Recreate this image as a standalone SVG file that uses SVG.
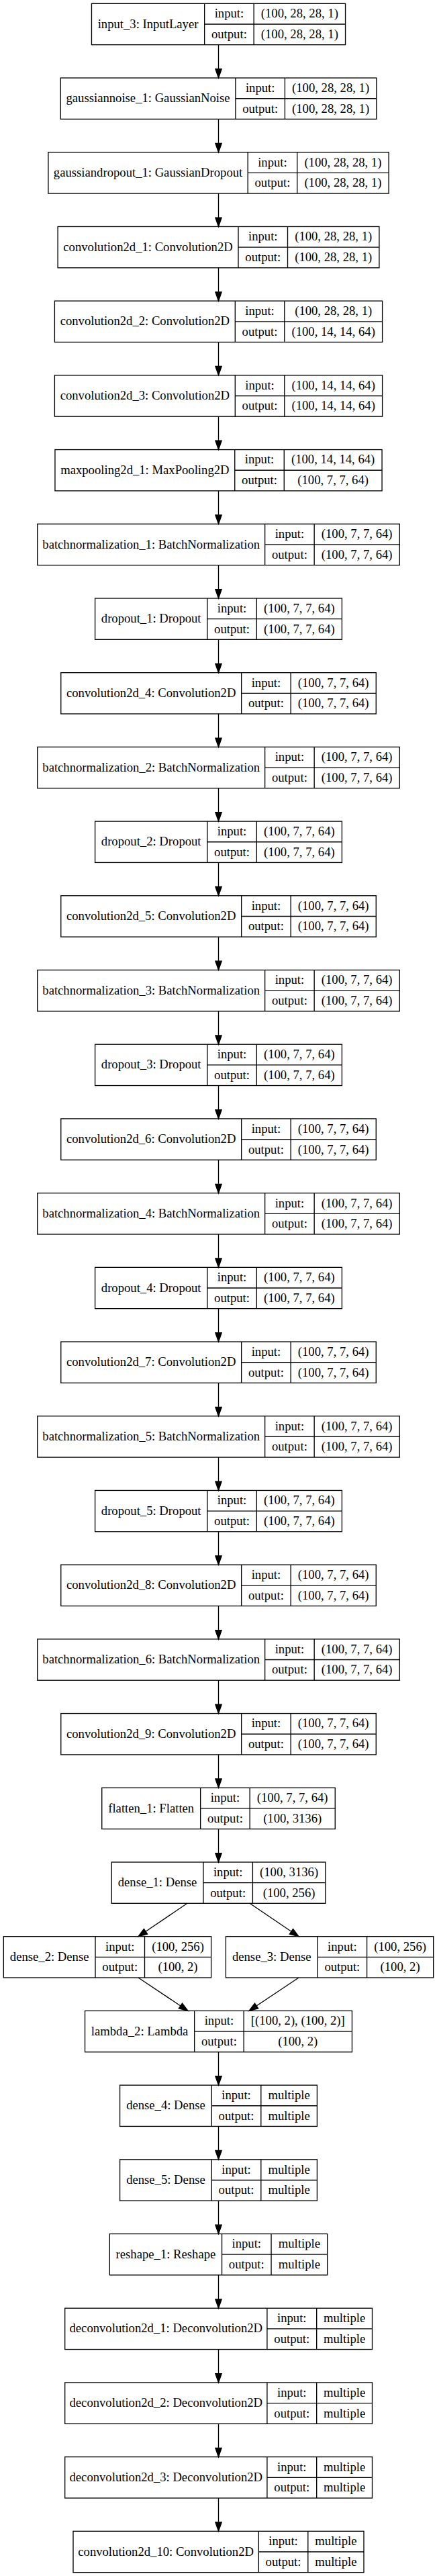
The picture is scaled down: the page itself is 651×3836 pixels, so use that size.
<svg xmlns="http://www.w3.org/2000/svg" width="651" height="3836" viewBox="0 0 651 3836">
<style>
.b{fill:#fff;stroke:#000;stroke-width:1.33}
.d{stroke:#000;stroke-width:1.33;fill:none}
.e{stroke:#000;stroke-width:1.33;fill:none;marker-end:url(#arr)}
text{font-family:'Liberation Serif','Times New Roman',serif;font-size:18.67px;text-anchor:middle;fill:#000}
</style>
<defs>
<marker id="arr" markerUnits="userSpaceOnUse" markerWidth="15" markerHeight="11" refX="0" refY="5" orient="auto" overflow="visible">
<path d="M0,0.33 L13.33,5 L0,9.67 Z" fill="#000" stroke="#000" stroke-width="1.33"/>
</marker>
</defs>
<rect x="0" y="0" width="651" height="3836" fill="#fff"/>

<g id="input_3" transform="translate(0,5.33)">
<rect class="b" x="136.45" y="0" width="378.1" height="61.33"/>
<path class="d" d="M304.65,0V61.33M378.15,0V61.33M304.65,30.67H514.55"/>
<text x="220.55" y="36.27">input_3: InputLayer</text>
<text x="341.4" y="20.93">input:</text><text x="341.4" y="51.6">output:</text>
<text x="446.35" y="20.93">(100, 28, 28, 1)</text><text x="446.35" y="51.6">(100, 28, 28, 1)</text>
</g>

<g id="gaussiannoise_1" transform="translate(0,116.04)">
<rect class="b" x="90.2" y="0" width="470.6" height="61.33"/>
<path class="d" d="M350.9,0V61.33M424.4,0V61.33M350.9,30.67H560.8"/>
<text x="220.55" y="36.27">gaussiannoise_1: GaussianNoise</text>
<text x="387.65" y="20.93">input:</text><text x="387.65" y="51.6">output:</text>
<text x="492.6" y="20.93">(100, 28, 28, 1)</text><text x="492.6" y="51.6">(100, 28, 28, 1)</text>
</g>

<g id="gaussiandropout_1" transform="translate(0,226.74)">
<rect class="b" x="71.9" y="0" width="507.2" height="61.33"/>
<path class="d" d="M369.2,0V61.33M442.7,0V61.33M369.2,30.67H579.1"/>
<text x="220.55" y="36.27">gaussiandropout_1: GaussianDropout</text>
<text x="405.95" y="20.93">input:</text><text x="405.95" y="51.6">output:</text>
<text x="510.9" y="20.93">(100, 28, 28, 1)</text><text x="510.9" y="51.6">(100, 28, 28, 1)</text>
</g>

<g id="convolution2d_1" transform="translate(0,337.45)">
<rect class="b" x="86.1" y="0" width="478.8" height="61.33"/>
<path class="d" d="M355,0V61.33M428.5,0V61.33M355,30.67H564.9"/>
<text x="220.55" y="36.27">convolution2d_1: Convolution2D</text>
<text x="391.75" y="20.93">input:</text><text x="391.75" y="51.6">output:</text>
<text x="496.7" y="20.93">(100, 28, 28, 1)</text><text x="496.7" y="51.6">(100, 28, 28, 1)</text>
</g>

<g id="convolution2d_2" transform="translate(0,448.15)">
<rect class="b" x="81.4" y="0" width="488.2" height="61.33"/>
<path class="d" d="M350.3,0V61.33M423.8,0V61.33M350.3,30.67H569.6"/>
<text x="215.85" y="36.27">convolution2d_2: Convolution2D</text>
<text x="387.05" y="20.93">input:</text><text x="387.05" y="51.6">output:</text>
<text x="496.7" y="20.93">(100, 28, 28, 1)</text><text x="496.7" y="51.6">(100, 14, 14, 64)</text>
</g>

<g id="convolution2d_3" transform="translate(0,558.86)">
<rect class="b" x="81.4" y="0" width="488.2" height="61.33"/>
<path class="d" d="M350.3,0V61.33M423.8,0V61.33M350.3,30.67H569.6"/>
<text x="215.85" y="36.27">convolution2d_3: Convolution2D</text>
<text x="387.05" y="20.93">input:</text><text x="387.05" y="51.6">output:</text>
<text x="496.7" y="20.93">(100, 14, 14, 64)</text><text x="496.7" y="51.6">(100, 14, 14, 64)</text>
</g>

<g id="maxpooling2d_1" transform="translate(0,669.57)">
<rect class="b" x="81.95" y="0" width="487.1" height="61.33"/>
<path class="d" d="M349.75,0V61.33M423.25,0V61.33M349.75,30.67H569.05"/>
<text x="215.85" y="36.27">maxpooling2d_1: MaxPooling2D</text>
<text x="386.5" y="20.93">input:</text><text x="386.5" y="51.6">output:</text>
<text x="496.15" y="20.93">(100, 14, 14, 64)</text><text x="496.15" y="51.6">(100, 7, 7, 64)</text>
</g>

<g id="batchnormalization_1" transform="translate(0,780.27)">
<rect class="b" x="55.75" y="0" width="539.5" height="61.33"/>
<path class="d" d="M394.65,0V61.33M468.15,0V61.33M394.65,30.67H595.25"/>
<text x="225.2" y="36.27">batchnormalization_1: BatchNormalization</text>
<text x="431.4" y="20.93">input:</text><text x="431.4" y="51.6">output:</text>
<text x="531.7" y="20.93">(100, 7, 7, 64)</text><text x="531.7" y="51.6">(100, 7, 7, 64)</text>
</g>

<g id="dropout_1" transform="translate(0,890.98)">
<rect class="b" x="141.6" y="0" width="367.8" height="61.33"/>
<path class="d" d="M308.8,0V61.33M382.3,0V61.33M308.8,30.67H509.4"/>
<text x="225.2" y="36.27">dropout_1: Dropout</text>
<text x="345.55" y="20.93">input:</text><text x="345.55" y="51.6">output:</text>
<text x="445.85" y="20.93">(100, 7, 7, 64)</text><text x="445.85" y="51.6">(100, 7, 7, 64)</text>
</g>

<g id="convolution2d_4" transform="translate(0,1001.68)">
<rect class="b" x="90.75" y="0" width="469.5" height="61.33"/>
<path class="d" d="M359.65,0V61.33M433.15,0V61.33M359.65,30.67H560.25"/>
<text x="225.2" y="36.27">convolution2d_4: Convolution2D</text>
<text x="396.4" y="20.93">input:</text><text x="396.4" y="51.6">output:</text>
<text x="496.7" y="20.93">(100, 7, 7, 64)</text><text x="496.7" y="51.6">(100, 7, 7, 64)</text>
</g>

<g id="batchnormalization_2" transform="translate(0,1112.39)">
<rect class="b" x="55.75" y="0" width="539.5" height="61.33"/>
<path class="d" d="M394.65,0V61.33M468.15,0V61.33M394.65,30.67H595.25"/>
<text x="225.2" y="36.27">batchnormalization_2: BatchNormalization</text>
<text x="431.4" y="20.93">input:</text><text x="431.4" y="51.6">output:</text>
<text x="531.7" y="20.93">(100, 7, 7, 64)</text><text x="531.7" y="51.6">(100, 7, 7, 64)</text>
</g>

<g id="dropout_2" transform="translate(0,1223.10)">
<rect class="b" x="141.6" y="0" width="367.8" height="61.33"/>
<path class="d" d="M308.8,0V61.33M382.3,0V61.33M308.8,30.67H509.4"/>
<text x="225.2" y="36.27">dropout_2: Dropout</text>
<text x="345.55" y="20.93">input:</text><text x="345.55" y="51.6">output:</text>
<text x="445.85" y="20.93">(100, 7, 7, 64)</text><text x="445.85" y="51.6">(100, 7, 7, 64)</text>
</g>

<g id="convolution2d_5" transform="translate(0,1333.80)">
<rect class="b" x="90.75" y="0" width="469.5" height="61.33"/>
<path class="d" d="M359.65,0V61.33M433.15,0V61.33M359.65,30.67H560.25"/>
<text x="225.2" y="36.27">convolution2d_5: Convolution2D</text>
<text x="396.4" y="20.93">input:</text><text x="396.4" y="51.6">output:</text>
<text x="496.7" y="20.93">(100, 7, 7, 64)</text><text x="496.7" y="51.6">(100, 7, 7, 64)</text>
</g>

<g id="batchnormalization_3" transform="translate(0,1444.51)">
<rect class="b" x="55.75" y="0" width="539.5" height="61.33"/>
<path class="d" d="M394.65,0V61.33M468.15,0V61.33M394.65,30.67H595.25"/>
<text x="225.2" y="36.27">batchnormalization_3: BatchNormalization</text>
<text x="431.4" y="20.93">input:</text><text x="431.4" y="51.6">output:</text>
<text x="531.7" y="20.93">(100, 7, 7, 64)</text><text x="531.7" y="51.6">(100, 7, 7, 64)</text>
</g>

<g id="dropout_3" transform="translate(0,1555.21)">
<rect class="b" x="141.6" y="0" width="367.8" height="61.33"/>
<path class="d" d="M308.8,0V61.33M382.3,0V61.33M308.8,30.67H509.4"/>
<text x="225.2" y="36.27">dropout_3: Dropout</text>
<text x="345.55" y="20.93">input:</text><text x="345.55" y="51.6">output:</text>
<text x="445.85" y="20.93">(100, 7, 7, 64)</text><text x="445.85" y="51.6">(100, 7, 7, 64)</text>
</g>

<g id="convolution2d_6" transform="translate(0,1665.92)">
<rect class="b" x="90.75" y="0" width="469.5" height="61.33"/>
<path class="d" d="M359.65,0V61.33M433.15,0V61.33M359.65,30.67H560.25"/>
<text x="225.2" y="36.27">convolution2d_6: Convolution2D</text>
<text x="396.4" y="20.93">input:</text><text x="396.4" y="51.6">output:</text>
<text x="496.7" y="20.93">(100, 7, 7, 64)</text><text x="496.7" y="51.6">(100, 7, 7, 64)</text>
</g>

<g id="batchnormalization_4" transform="translate(0,1776.63)">
<rect class="b" x="55.75" y="0" width="539.5" height="61.33"/>
<path class="d" d="M394.65,0V61.33M468.15,0V61.33M394.65,30.67H595.25"/>
<text x="225.2" y="36.27">batchnormalization_4: BatchNormalization</text>
<text x="431.4" y="20.93">input:</text><text x="431.4" y="51.6">output:</text>
<text x="531.7" y="20.93">(100, 7, 7, 64)</text><text x="531.7" y="51.6">(100, 7, 7, 64)</text>
</g>

<g id="dropout_4" transform="translate(0,1887.33)">
<rect class="b" x="141.6" y="0" width="367.8" height="61.33"/>
<path class="d" d="M308.8,0V61.33M382.3,0V61.33M308.8,30.67H509.4"/>
<text x="225.2" y="36.27">dropout_4: Dropout</text>
<text x="345.55" y="20.93">input:</text><text x="345.55" y="51.6">output:</text>
<text x="445.85" y="20.93">(100, 7, 7, 64)</text><text x="445.85" y="51.6">(100, 7, 7, 64)</text>
</g>

<g id="convolution2d_7" transform="translate(0,1998.04)">
<rect class="b" x="90.75" y="0" width="469.5" height="61.33"/>
<path class="d" d="M359.65,0V61.33M433.15,0V61.33M359.65,30.67H560.25"/>
<text x="225.2" y="36.27">convolution2d_7: Convolution2D</text>
<text x="396.4" y="20.93">input:</text><text x="396.4" y="51.6">output:</text>
<text x="496.7" y="20.93">(100, 7, 7, 64)</text><text x="496.7" y="51.6">(100, 7, 7, 64)</text>
</g>

<g id="batchnormalization_5" transform="translate(0,2108.74)">
<rect class="b" x="55.75" y="0" width="539.5" height="61.33"/>
<path class="d" d="M394.65,0V61.33M468.15,0V61.33M394.65,30.67H595.25"/>
<text x="225.2" y="36.27">batchnormalization_5: BatchNormalization</text>
<text x="431.4" y="20.93">input:</text><text x="431.4" y="51.6">output:</text>
<text x="531.7" y="20.93">(100, 7, 7, 64)</text><text x="531.7" y="51.6">(100, 7, 7, 64)</text>
</g>

<g id="dropout_5" transform="translate(0,2219.45)">
<rect class="b" x="141.6" y="0" width="367.8" height="61.33"/>
<path class="d" d="M308.8,0V61.33M382.3,0V61.33M308.8,30.67H509.4"/>
<text x="225.2" y="36.27">dropout_5: Dropout</text>
<text x="345.55" y="20.93">input:</text><text x="345.55" y="51.6">output:</text>
<text x="445.85" y="20.93">(100, 7, 7, 64)</text><text x="445.85" y="51.6">(100, 7, 7, 64)</text>
</g>

<g id="convolution2d_8" transform="translate(0,2330.16)">
<rect class="b" x="90.75" y="0" width="469.5" height="61.33"/>
<path class="d" d="M359.65,0V61.33M433.15,0V61.33M359.65,30.67H560.25"/>
<text x="225.2" y="36.27">convolution2d_8: Convolution2D</text>
<text x="396.4" y="20.93">input:</text><text x="396.4" y="51.6">output:</text>
<text x="496.7" y="20.93">(100, 7, 7, 64)</text><text x="496.7" y="51.6">(100, 7, 7, 64)</text>
</g>

<g id="batchnormalization_6" transform="translate(0,2440.86)">
<rect class="b" x="55.75" y="0" width="539.5" height="61.33"/>
<path class="d" d="M394.65,0V61.33M468.15,0V61.33M394.65,30.67H595.25"/>
<text x="225.2" y="36.27">batchnormalization_6: BatchNormalization</text>
<text x="431.4" y="20.93">input:</text><text x="431.4" y="51.6">output:</text>
<text x="531.7" y="20.93">(100, 7, 7, 64)</text><text x="531.7" y="51.6">(100, 7, 7, 64)</text>
</g>

<g id="convolution2d_9" transform="translate(0,2551.57)">
<rect class="b" x="90.75" y="0" width="469.5" height="61.33"/>
<path class="d" d="M359.65,0V61.33M433.15,0V61.33M359.65,30.67H560.25"/>
<text x="225.2" y="36.27">convolution2d_9: Convolution2D</text>
<text x="396.4" y="20.93">input:</text><text x="396.4" y="51.6">output:</text>
<text x="496.7" y="20.93">(100, 7, 7, 64)</text><text x="496.7" y="51.6">(100, 7, 7, 64)</text>
</g>

<g id="flatten_1" transform="translate(0,2662.27)">
<rect class="b" x="151.75" y="0" width="347.5" height="61.33"/>
<path class="d" d="M298.65,0V61.33M372.15,0V61.33M298.65,30.67H499.25"/>
<text x="225.2" y="36.27">flatten_1: Flatten</text>
<text x="335.4" y="20.93">input:</text><text x="335.4" y="51.6">output:</text>
<text x="435.7" y="20.93">(100, 7, 7, 64)</text><text x="435.7" y="51.6">(100, 3136)</text>
</g>

<g id="dense_1" transform="translate(0,2772.98)">
<rect class="b" x="166.2" y="0" width="318.6" height="61.33"/>
<path class="d" d="M302.9,0V61.33M376.4,0V61.33M302.9,30.67H484.8"/>
<text x="234.55" y="36.27">dense_1: Dense</text>
<text x="339.65" y="20.93">input:</text><text x="339.65" y="51.6">output:</text>
<text x="430.6" y="20.93">(100, 3136)</text><text x="430.6" y="51.6">(100, 256)</text>
</g>

<g id="dense_2" transform="translate(0,2883.69)">
<rect class="b" x="5.33" y="0" width="309.27" height="61.33"/>
<path class="d" d="M142,0V61.33M215.5,0V61.33M142,30.67H314.6"/>
<text x="73.67" y="36.27">dense_2: Dense</text>
<text x="178.75" y="20.93">input:</text><text x="178.75" y="51.6">output:</text>
<text x="265.05" y="20.93">(100, 256)</text><text x="265.05" y="51.6">(100, 2)</text>
</g>

<g id="dense_3" transform="translate(0,2883.69)">
<rect class="b" x="336.4" y="0" width="309.27" height="61.33"/>
<path class="d" d="M473.1,0V61.33M546.6,0V61.33M473.1,30.67H645.67"/>
<text x="404.75" y="36.27">dense_3: Dense</text>
<text x="509.85" y="20.93">input:</text><text x="509.85" y="51.6">output:</text>
<text x="596.13" y="20.93">(100, 256)</text><text x="596.13" y="51.6">(100, 2)</text>
</g>

<g id="lambda_2" transform="translate(0,2994.39)">
<rect class="b" x="126.55" y="0" width="397.9" height="61.33"/>
<path class="d" d="M289.65,0V61.33M363.15,0V61.33M289.65,30.67H524.45"/>
<text x="208.1" y="36.27">lambda_2: Lambda</text>
<text x="326.4" y="20.93">input:</text><text x="326.4" y="51.6">output:</text>
<text x="443.8" y="20.93">[(100, 2), (100, 2)]</text><text x="443.8" y="51.6">(100, 2)</text>
</g>

<g id="dense_4" transform="translate(0,3105.10)">
<rect class="b" x="178.6" y="0" width="293.8" height="61.33"/>
<path class="d" d="M315.3,0V61.33M388.8,0V61.33M315.3,30.67H472.4"/>
<text x="246.95" y="36.27">dense_4: Dense</text>
<text x="352.05" y="20.93">input:</text><text x="352.05" y="51.6">output:</text>
<text x="430.6" y="20.93">multiple</text><text x="430.6" y="51.6">multiple</text>
</g>

<g id="dense_5" transform="translate(0,3215.80)">
<rect class="b" x="178.6" y="0" width="293.8" height="61.33"/>
<path class="d" d="M315.3,0V61.33M388.8,0V61.33M315.3,30.67H472.4"/>
<text x="246.95" y="36.27">dense_5: Dense</text>
<text x="352.05" y="20.93">input:</text><text x="352.05" y="51.6">output:</text>
<text x="430.6" y="20.93">multiple</text><text x="430.6" y="51.6">multiple</text>
</g>

<g id="reshape_1" transform="translate(0,3326.51)">
<rect class="b" x="163.35" y="0" width="324.3" height="61.33"/>
<path class="d" d="M330.55,0V61.33M404.05,0V61.33M330.55,30.67H487.65"/>
<text x="246.95" y="36.27">reshape_1: Reshape</text>
<text x="367.3" y="20.93">input:</text><text x="367.3" y="51.6">output:</text>
<text x="445.85" y="20.93">multiple</text><text x="445.85" y="51.6">multiple</text>
</g>

<g id="deconvolution2d_1" transform="translate(0,3437.22)">
<rect class="b" x="96.7" y="0" width="457.8" height="61.33"/>
<path class="d" d="M397.9,0V61.33M471.7,0V61.33M397.9,30.67H554.5"/>
<text x="247.3" y="36.27">deconvolution2d_1: Deconvolution2D</text>
<text x="434.8" y="20.93">input:</text><text x="434.8" y="51.6">output:</text>
<text x="513.1" y="20.93">multiple</text><text x="513.1" y="51.6">multiple</text>
</g>

<g id="deconvolution2d_2" transform="translate(0,3547.92)">
<rect class="b" x="96.7" y="0" width="457.8" height="61.33"/>
<path class="d" d="M397.9,0V61.33M471.7,0V61.33M397.9,30.67H554.5"/>
<text x="247.3" y="36.27">deconvolution2d_2: Deconvolution2D</text>
<text x="434.8" y="20.93">input:</text><text x="434.8" y="51.6">output:</text>
<text x="513.1" y="20.93">multiple</text><text x="513.1" y="51.6">multiple</text>
</g>

<g id="deconvolution2d_3" transform="translate(0,3658.63)">
<rect class="b" x="96.7" y="0" width="457.8" height="61.33"/>
<path class="d" d="M397.9,0V61.33M471.7,0V61.33M397.9,30.67H554.5"/>
<text x="247.3" y="36.27">deconvolution2d_3: Deconvolution2D</text>
<text x="434.8" y="20.93">input:</text><text x="434.8" y="51.6">output:</text>
<text x="513.1" y="20.93">multiple</text><text x="513.1" y="51.6">multiple</text>
</g>

<g id="convolution2d_10" transform="translate(0,3769.33)">
<rect class="b" x="109" y="0" width="433" height="61.33"/>
<path class="d" d="M385.3,0V61.33M458.8,0V61.33M385.3,30.67H542"/>
<text x="247.15" y="36.27">convolution2d_10: Convolution2D</text>
<text x="422.05" y="20.93">input:</text><text x="422.05" y="51.6">output:</text>
<text x="500.4" y="20.93">multiple</text><text x="500.4" y="51.6">multiple</text>
</g>

<g id="edges">
<path class="e" d="M325.5,66.66V102.71"/>
<path class="e" d="M325.5,177.37V213.42"/>
<path class="e" d="M325.5,288.07V324.12"/>
<path class="e" d="M325.5,398.78V434.83"/>
<path class="e" d="M325.5,509.48V545.53"/>
<path class="e" d="M325.5,620.19V656.24"/>
<path class="e" d="M325.5,730.9V766.95"/>
<path class="e" d="M325.5,841.6V877.65"/>
<path class="e" d="M325.5,952.31V988.36"/>
<path class="e" d="M325.5,1063.01V1099.06"/>
<path class="e" d="M325.5,1173.72V1209.77"/>
<path class="e" d="M325.5,1284.43V1320.48"/>
<path class="e" d="M325.5,1395.13V1431.18"/>
<path class="e" d="M325.5,1505.84V1541.89"/>
<path class="e" d="M325.5,1616.54V1652.59"/>
<path class="e" d="M325.5,1727.25V1763.3"/>
<path class="e" d="M325.5,1837.96V1874.01"/>
<path class="e" d="M325.5,1948.66V1984.71"/>
<path class="e" d="M325.5,2059.37V2095.42"/>
<path class="e" d="M325.5,2170.07V2206.12"/>
<path class="e" d="M325.5,2280.78V2316.83"/>
<path class="e" d="M325.5,2391.49V2427.54"/>
<path class="e" d="M325.5,2502.19V2538.24"/>
<path class="e" d="M325.5,2612.9V2648.95"/>
<path class="e" d="M325.5,2723.6V2759.65"/>
<path class="e" d="M279,2834.31L217.04,2876.22"/>
<path class="e" d="M372,2834.31L433.96,2876.22"/>
<path class="e" d="M206,2945.02L268.91,2986.99"/>
<path class="e" d="M445,2945.02L382.09,2986.99"/>
<path class="e" d="M325.5,3055.72V3091.77"/>
<path class="e" d="M325.5,3166.43V3202.48"/>
<path class="e" d="M325.5,3277.13V3313.18"/>
<path class="e" d="M325.5,3387.84V3423.89"/>
<path class="e" d="M325.5,3498.55V3534.6"/>
<path class="e" d="M325.5,3609.25V3645.3"/>
<path class="e" d="M325.5,3719.96V3756.01"/>
</g>
</svg>
